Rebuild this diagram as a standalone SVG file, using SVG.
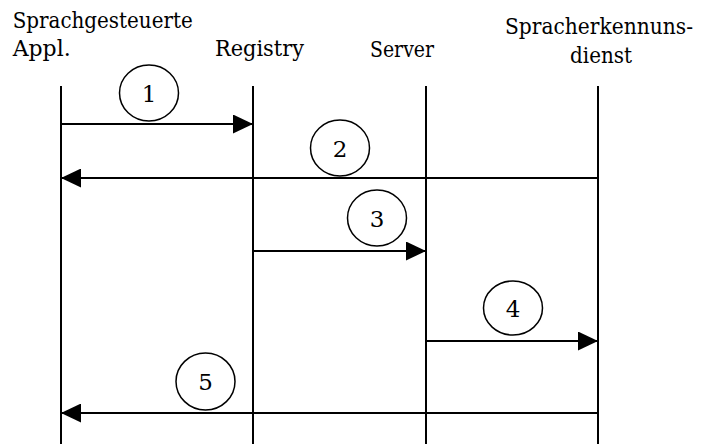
<svg xmlns="http://www.w3.org/2000/svg" width="713" height="444" viewBox="0 0 713 444">
<defs>
<style>
text{font-family:'DejaVu Serif',serif;font-size:22px;fill:#000}
.num{text-anchor:middle;font-size:23px}
.life{stroke:#000;stroke-width:2;fill:none}
.msg{stroke:#000;stroke-width:2;fill:none}
.bub{stroke:#000;stroke-width:1.5;fill:#fff}
</style>
<marker id="ah" markerUnits="userSpaceOnUse" markerWidth="20" markerHeight="19" refX="20" refY="9.5" orient="auto">
<path d="M0,0 L20,9.5 L0,19 Z" fill="#000"/>
</marker>
</defs>
<rect width="713" height="444" fill="#fff"/>
<g id="appl">
<text x="12.7" y="28" textLength="180" lengthAdjust="spacingAndGlyphs">Sprachgesteuerte</text>
<text x="12.7" y="56" textLength="58" lengthAdjust="spacingAndGlyphs">Appl.</text>
<line class="life" x1="61" y1="86" x2="61" y2="444"/>
</g>
<g id="registry">
<text x="215" y="56" textLength="89" lengthAdjust="spacingAndGlyphs">Registry</text>
<line class="life" x1="253" y1="86" x2="253" y2="444"/>
</g>
<g id="server">
<text x="370" y="57" textLength="64" lengthAdjust="spacingAndGlyphs">Server</text>
<line class="life" x1="426" y1="86" x2="426" y2="444"/>
</g>
<g id="spracherkennungsdienst">
<text x="505" y="34" textLength="188" lengthAdjust="spacingAndGlyphs">Spracherkennuns-</text>
<text x="570" y="63" textLength="62" lengthAdjust="spacingAndGlyphs">dienst</text>
<line class="life" x1="598" y1="86" x2="598" y2="444"/>
</g>
<g id="connectors">
<line class="msg" x1="61" y1="124" x2="253" y2="124" marker-end="url(#ah)"/>
<line class="msg" x1="598" y1="178" x2="61" y2="178" marker-end="url(#ah)"/>
<line class="msg" x1="253" y1="251" x2="426" y2="251" marker-end="url(#ah)"/>
<line class="msg" x1="426" y1="341" x2="598" y2="341" marker-end="url(#ah)"/>
<line class="msg" x1="598" y1="413" x2="61" y2="413" marker-end="url(#ah)"/>
</g>
<g id="step1">
<ellipse class="bub" cx="149" cy="93" rx="29.5" ry="28"/>
<text class="num" x="149" y="101.5">1</text>
</g>
<g id="step2">
<ellipse class="bub" cx="340" cy="148" rx="29.5" ry="28"/>
<text class="num" x="340" y="156.5">2</text>
</g>
<g id="step3">
<ellipse class="bub" cx="377" cy="218" rx="29.5" ry="28"/>
<text class="num" x="377" y="226.5">3</text>
</g>
<g id="step4">
<ellipse class="bub" cx="513" cy="308" rx="29.5" ry="27"/>
<text class="num" x="513" y="316.5">4</text>
</g>
<g id="step5">
<ellipse class="bub" cx="205.5" cy="381.5" rx="29.5" ry="28.5"/>
<text class="num" x="205.5" y="390">5</text>
</g>
</svg>
